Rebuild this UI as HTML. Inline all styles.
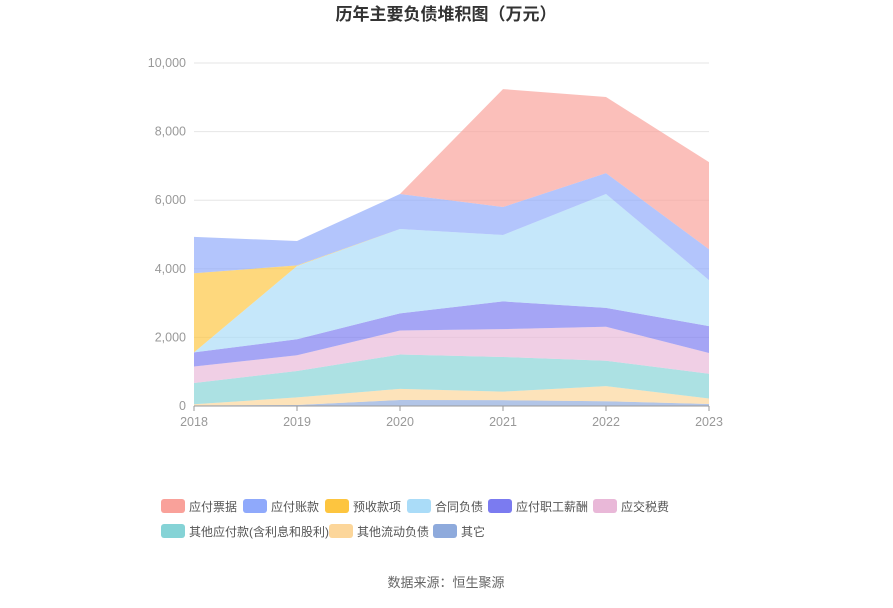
<!DOCTYPE html>
<html><head><meta charset="utf-8"><style>
body{margin:0;background:#fff;width:893px;height:603px;overflow:hidden;font-family:"Liberation Sans","Noto Sans CJK SC",sans-serif}
svg text{font-family:"Liberation Sans","Noto Sans CJK SC",sans-serif}
</style></head><body>
<svg id="c" width="893" height="603">
<text x="446" y="20" text-anchor="middle" font-size="17" font-weight="bold" fill="#333">历年主要负债堆积图（万元）</text>
<text x="446" y="587" text-anchor="middle" font-size="13" fill="#666">数据来源：恒生聚源</text>
</svg>
<script>
const years=['2018','2019','2020','2021','2022','2023'];
const yTicks=[0,2000,4000,6000,8000,10000];
const seriesNames=['其它','其他流动负债','其他应付款(含利息和股利)','应交税费','应付职工薪酬','合同负债','预收款项','应付账款','应付票据'];
const sOther=[20,30,175,170,140,60];
const sOtherCur=[30,220,325,250,440,160];
const sOtherPay=[620,770,1000,1010,740,720];
const sTax=[480,460,700,810,990,605];
const sStaff=[415,465,500,810,550,785];
const sContract=[0,2135,2460,1935,3320,1340];
const sAdvance=[2305,20,0,0,0,0];
const sPayable=[1060,710,1020,815,610,900];
const sNotes=[0,0,0,3440,2220,2540];
const seriesVals=[sOther,sOtherCur,sOtherPay,sTax,sStaff,sContract,sAdvance,sPayable,sNotes];
const fills=['#8eaadc','#fcd69a','#85d3d6','#e9b8d8','#7b7bf0','#aadcf8','#fdc53f','#8fa9fb','#f9a19a'];
const keys=['other','other-current','other-payables','tax','staff-pay','contract','advance','accounts-payable','notes-payable'];
const NS='http://www.w3.org/2000/svg',svg=document.getElementById('c');
const x0=194,x1=709,yb=406,yt=63,ymax=10000;
const X=i=>x0+(x1-x0)*i/(years.length-1);
const Y=v=>yb-(yb-yt)*v/ymax;
function mk(t,a){const e=document.createElementNS(NS,t);for(const k in a)e.setAttribute(k,a[k]);svg.appendChild(e);return e;}
yTicks.forEach(v=>{
 const l=mk('line',{x1:x0,x2:x1,y1:Y(v),y2:Y(v),stroke:'#e6e6e6'});
 
 
 const t=mk('text',{x:186,y:Y(v)+4,'text-anchor':'end','font-size':12.5,fill:'#999'});
 t.textContent=v.toLocaleString('en-US');
 
 
});
let base=years.map(()=>0);
seriesVals.forEach((vals,s)=>{
 const top=base.map((b,i)=>b+vals[i]);
 let d='M'+top.map((v,i)=>X(i)+','+Y(v)).join('L');
 for(let i=years.length-1;i>=0;i--)d+='L'+X(i)+','+Y(base[i]);
 const p=mk('path',{d:d+'Z',fill:fills[s],'fill-opacity':0.68});
 
 
 base=top;
});
const ax=mk('line',{x1:x0,x2:x1,y1:yb,y2:yb,stroke:'#999'});


years.forEach((y,i)=>{
 const tk=mk('line',{x1:X(i),x2:X(i),y1:yb,y2:yb+5,stroke:'#999'});
 
 
 const t=mk('text',{x:X(i),y:yb+20,'text-anchor':'middle','font-size':12.5,fill:'#999'});
 t.textContent=y;
 
 
});
const legendOrder=[8,7,6,5,4,3,2,1,0];
const lx=[161,243,325,407,488,593,161,329,433],ly=[499,499,499,499,499,499,524,524,524];
legendOrder.forEach((s,k)=>{
 const r=mk('rect',{x:lx[k],y:ly[k],width:24,height:14,rx:3,fill:fills[s]});
 
 
 const t=mk('text',{x:lx[k]+28,y:ly[k]+12,'font-size':12,fill:'#555'});
 t.textContent=seriesNames[s];
 
 
});
</script>
</body></html>
